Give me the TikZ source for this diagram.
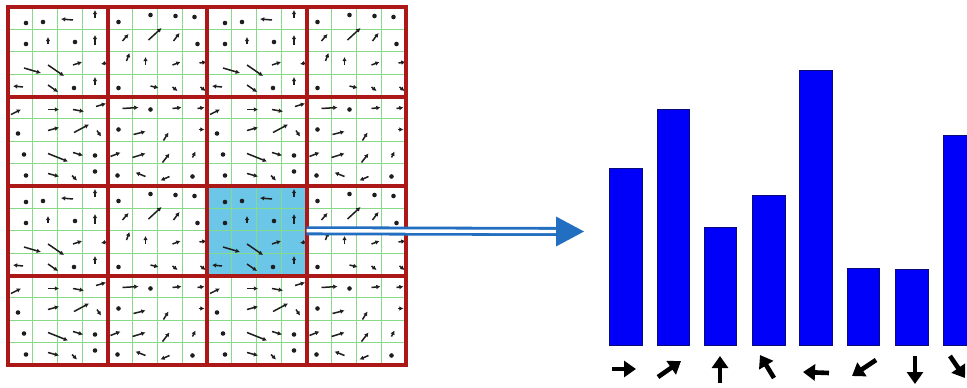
\documentclass[tikz,border=0pt]{standalone}
\usetikzlibrary{arrows.meta}

\definecolor{gridred}{RGB}{172,24,24}
\definecolor{gridgreen}{RGB}{135,218,135}
\definecolor{hlblue}{RGB}{108,198,232}
\definecolor{flowblue}{RGB}{34,110,192}
\definecolor{barblue}{RGB}{0,0,250}
\definecolor{baredge}{RGB}{10,10,120}
\definecolor{vecgray}{RGB}{30,30,30}

\tikzset{
  gline/.style={draw=gridgreen, line width=1pt},
  rline/.style={draw=gridred, line width=4pt},
  gvec/.style={draw=vecgray, line width=1.5pt, -{Latex[length=4.2pt,width=4.6pt]}},
  gblob/.style={fill=vecgray},
  flow/.style={draw=flowblue, line width=2.8pt, double=white, double distance=3.4pt},
  bar/.style={fill=barblue, draw=baredge, line width=0.8pt},
  binarrow/.style={draw=black, line width=4.6pt, -{Triangle[length=12pt,width=16pt]}}
}

% one gradient sample (arrow) and one near-zero sample (blob)
\newcommand\gv[4]{\draw[gvec] (#1,#2) -- (#3,#4);}
\newcommand\gd[2]{\fill[gblob] (#1,#2) circle (2.3pt);}

% the four 4x4 sample patterns of a 2x2 block of cells
\newcommand\cellA{%
 \gd{18}{16} \gd{35}{15} \gv{65}{13}{53}{12} \gv{87}{11}{87}{3}
 \gd{18}{37} \gv{40}{37}{40}{30} \gd{67}{35} \gv{87}{38}{87}{28}
 \gv{65}{58}{74}{55} \gv{99}{56}{93}{57} \gv{16}{61}{33}{66} \gv{40}{58}{56}{69}
 \gv{87}{78}{87}{70} \gv{15}{80}{5}{79} \gv{40}{78}{50}{85} \gd{66}{81}}
\newcommand\cellB{%
 \gd{11}{15} \gd{43}{8} \gd{68}{9} \gd{87}{10}
 \gv{15}{34}{21}{27} \gv{41}{33}{54}{21} \gv{66}{34}{72}{26} \gd{90}{37}
 \gv{19}{54}{22}{46} \gv{38}{58}{38}{50} \gv{65}{58}{73}{55} \gv{92}{56}{99}{55}
 \gd{11}{81} \gv{43}{79}{51}{81} \gv{65}{80}{70}{84} \gv{93}{80}{98}{84}}
\newcommand\cellC{%
 \gv{3}{18}{13}{13} \gv{40}{13}{51}{13} \gv{65}{13}{76}{15} \gv{88}{10}{98}{7}
 \gd{10}{37} \gv{40}{34}{51}{31} \gv{66}{36}{81}{28} \gv{89}{34}{93}{40}
 \gd{16}{58} \gv{40}{57}{60}{65} \gv{65}{56}{75}{59} \gd{87}{59}
 \gd{18}{79} \gv{40}{77}{51}{80} \gv{64}{79}{69}{84} \gd{87}{75}}
\newcommand\cellD{%
 \gv{15}{12}{31}{11} \gd{43}{13} \gv{65}{12}{74}{11} \gv{90}{12}{97}{11}
 \gd{11}{33} \gv{26}{38}{38}{35} \gv{56}{44}{61}{36} \gv{91}{33}{97}{33}
 \gv{3}{60}{13}{56} \gv{25}{61}{38}{57} \gv{55}{66}{62}{57} \gv{85}{61}{88}{55}
 \gd{10}{79} \gv{38}{80}{28}{76} \gv{62}{80}{53}{84} \gd{85}{80}}

\begin{document}
\begin{tikzpicture}[x=1pt, y=-1pt]
  \useasboundingbox (0,0) rectangle (967,388);
  \fill[white] (0,0) rectangle (967,388);

  % highlighted cell
  \node[fill=hlblue, draw=none, inner sep=0pt, minimum width=99.5pt,
        minimum height=89.5pt] (hcell) at (256.75,230.75) {};

  % fine sample grid
  \foreach \k in {1,...,15} {
    \draw[gline] ({8+\k*24.875},7) -- ({8+\k*24.875},365);
    \draw[gline] (8,{7+\k*22.375}) -- (406,{7+\k*22.375});
  }

  % gradient samples, the 2x2 block repeated twice each way
  \foreach \bx in {0,199} {
    \foreach \by in {0,179} {
      \begin{scope}[shift={(8+\bx,7+\by)}]\cellA\end{scope}
      \begin{scope}[shift={(107.5+\bx,7+\by)}]\cellB\end{scope}
      \begin{scope}[shift={(8+\bx,96.5+\by)}]\cellC\end{scope}
      \begin{scope}[shift={(107.5+\bx,96.5+\by)}]\cellD\end{scope}
    }
  }

  % cell borders
  \foreach \x in {107.5,207,306.5} \draw[rline] (\x,7) -- (\x,365);
  \foreach \y in {96.5,186,275.5} \draw[rline] (8,\y) -- (406,\y);
  \draw[rline, line width=4.5pt] (8,7) rectangle (406,365);

  % flow from the cell to the histogram
  \coordinate (tip) at (556,231.5);
  \draw[flow] (hcell.east) -- (tip);
  \fill[flowblue] (tip) ++(0,-15) -- ++(28,15) -- ++(-28,15) -- cycle;

  % orientation histogram
  \draw[bar] (609,345) rectangle (642,168);
  \draw[bar] (657,345) rectangle (689,109);
  \draw[bar] (704,345) rectangle (736,227);
  \draw[bar] (752,345) rectangle (785,195);
  \draw[bar] (799,345) rectangle (832,70);
  \draw[bar] (847,345) rectangle (879,268);
  \draw[bar] (895,345) rectangle (928,269);
  \draw[bar] (943,345) rectangle (976,135);

  % bin directions
  \draw[binarrow] (612,369) -- (636,369);
  \draw[binarrow] (658,377) -- (681,361);
  \draw[binarrow] (720,383) -- (720,356);
  \draw[binarrow] (774,378) -- (760,355);
  \draw[binarrow] (829,373) -- (803,372);
  \draw[binarrow] (876,360) -- (852,376);
  \draw[binarrow] (915,356) -- (915,384);
  \draw[binarrow] (950,356) -- (965,378);
\end{tikzpicture}
\end{document}
